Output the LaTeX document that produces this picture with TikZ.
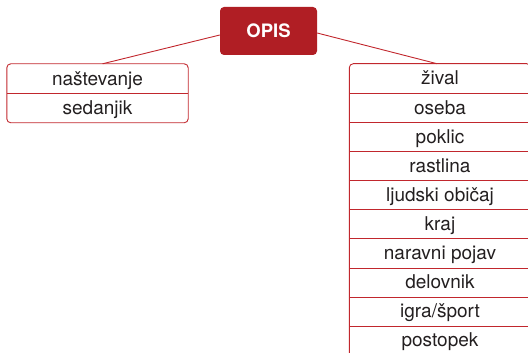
\documentclass[tikz,border=0pt]{standalone}
\usepackage{fontspec}
\setmainfont{TeX Gyre Heros}
\usepackage{tikz}
\usetikzlibrary{positioning, calc, fit, backgrounds}
\definecolor{opisred}{HTML}{B01E24}
\definecolor{frame}{HTML}{C1272D}
\definecolor{celltext}{HTML}{231F20}

\begin{document}
\begin{tikzpicture}[
    x=1pt, y=-1pt,
    head/.style={
        rectangle, rounded corners=4pt, fill=opisred, text=white,
        font=\fontsize{18.5}{21}\selectfont\bfseries,
        minimum width=97pt, minimum height=48pt, inner sep=0pt,
    },
    cell/.style={
        rectangle, text=celltext, font=\fontsize{19}{22}\selectfont,
        minimum width=181pt, minimum height=29.3pt, inner sep=0pt,
        text height=17pt, text depth=4.3pt,
    },
    frameline/.style={draw=frame, line width=0.9pt},
    link/.style={draw=frame, line width=0.9pt},
]

\useasboundingbox (0,0) rectangle (528,353);
\clip (0,0) rectangle (528,353);

% ── Heading ────────────────────────────────────────────────────────────────
\node[head] (opis) at (268.5, 31) {OPIS};

% ── Left column ────────────────────────────────────────────────────────────
\def\leftX{97.5}
\def\rowH{29.3}

\node[cell] (nast) at (\leftX, 64+0.5*\rowH) {naštevanje};
\node[cell] (sed)  at (\leftX, 64+1.5*\rowH) {sedanjik};

% ── Right column ───────────────────────────────────────────────────────────
\def\rightX{440}
\def\rowR{29.1}

\node[cell] (ziv)  at (\rightX, 64+0.5*\rowR) {žival};
\node[cell] (ose)  at (\rightX, 64+1.5*\rowR) {oseba};
\node[cell] (pok)  at (\rightX, 64+2.5*\rowR) {poklic};
\node[cell] (ras)  at (\rightX, 64+3.5*\rowR) {rastlina};
\node[cell] (lju)  at (\rightX, 64+4.5*\rowR) {ljudski običaj};
\node[cell] (kra)  at (\rightX, 64+5.5*\rowR) {kraj};
\node[cell] (nar)  at (\rightX, 64+6.5*\rowR) {naravni pojav};
\node[cell] (del)  at (\rightX, 64+7.5*\rowR) {delovnik};
\node[cell] (igr)  at (\rightX, 64+8.5*\rowR) {igra/šport};
\node[cell] (pos)  at (\rightX, 64+9.5*\rowR) {postopek};

% ── Frames and row separators ──────────────────────────────────────────────
\draw[frameline, rounded corners=4pt] (nast.north west) rectangle (sed.south east);
\draw[frameline] (nast.south west) -- (nast.south east);

\draw[frameline, rounded corners=4pt] (ziv.north west) rectangle ($(pos.south east)+(0,10)$);
\foreach \r in {ziv, ose, pok, ras, lju, kra, nar, del, igr}
    \draw[frameline] (\r.south west) -- (\r.south east);

% ── Links from heading ─────────────────────────────────────────────────────
\draw[link] ([yshift=-4pt]opis.west) -- ([xshift=5pt]nast.north);
\draw[link] ([yshift=-2pt]opis.east) -- ([xshift=-3pt]ziv.north);

\end{tikzpicture}
\end{document}
